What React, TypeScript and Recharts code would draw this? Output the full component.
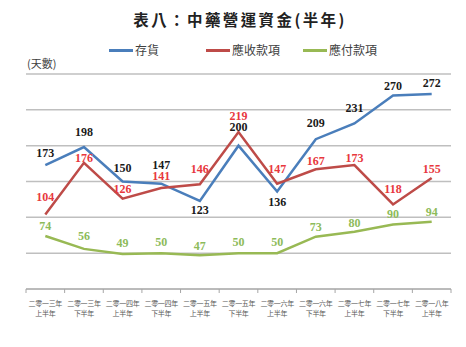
import React from 'react';
import { LineChart, Line, XAxis, YAxis, CartesianGrid, LabelList, Legend } from 'recharts';

const years = ['二零一三年', '二零一三年', '二零一四年', '二零一四年', '二零一五年', '二零一五年', '二零一六年', '二零一六年', '二零一七年', '二零一七年', '二零一八年'];
const halves = ['上半年', '下半年', '上半年', '下半年', '上半年', '下半年', '上半年', '下半年', '上半年', '下半年', '上半年'];
const inventory = [173, 198, 150, 147, 123, 200, 136, 209, 231, 270, 272];
const receivable = [104, 176, 126, 141, 146, 219, 147, 167, 173, 118, 155];
const payable = [74, 56, 49, 50, 47, 50, 50, 73, 80, 90, 94];
const yTicks = [0, 50, 100, 150, 200, 250, 300];

const seriesNames = ['存貨', '應收款項', '應付款項'];
const colors = ['#4A7EBB', '#BE4B48', '#98B954'];
const labelColors = ['#1a1a1a', '#E8383D', '#8DBB5A'];

// label vertical offsets (style only)
const invDy = [-12, -15, -14, -19, 9, -19, 10, -16, -15, -10, -11];
const recDy = [-17, -5, -10, -12, -15, -16, -15, -8, -7, -15, -9];
const payDy = [-10, -13, -11, -11, -9, -11, -11, -10, -9, -11, -10];

const data = years.map((y, i) => ({
  name: y + '|' + halves[i],
  year: y,
  half: halves[i],
  inv: inventory[i],
  rec: receivable[i],
  pay: payable[i],
}));

const makeLabel = (dys: number[], color: string) => (props: any) => {
  const { x, y, value, index } = props;
  return (
    <text
      x={x}
      y={y + dys[index]}
      textAnchor="middle"
      dominantBaseline="central"
      fill={color}
      fontSize={12}
      fontWeight="bold"
      fontFamily="'Liberation Serif', 'DejaVu Serif', serif"
    >
      {value}
    </text>
  );
};

const Tick = (props: any) => {
  const { x, y, index, width } = props;
  const bw = width / data.length;
  const d = data[index] || { year: '', half: '' };
  const left = x - bw / 2;
  return (
    <g>
      <line x1={left} y1={y} x2={left} y2={y + 4} stroke="#a6a6a6" strokeWidth={1} />
      {index === data.length - 1 && (
        <line x1={x + bw / 2} y1={y} x2={x + bw / 2} y2={y + 4} stroke="#a6a6a6" strokeWidth={1} />
      )}
      <text x={x} y={y + 17} textAnchor="middle" fontSize={7} letterSpacing={-0.3} fill="#595959" fontFamily="'Noto Sans CJK TC', sans-serif">
        {d.year}
      </text>
      <text x={x} y={y + 27} textAnchor="middle" fontSize={7} letterSpacing={-0.3} fill="#595959" fontFamily="'Noto Sans CJK TC', sans-serif">
        {d.half}
      </text>
    </g>
  );
};

const LegendContent = () => (
  <div style={{ display: 'flex', paddingLeft: 109, fontFamily: "'Noto Sans CJK TC', sans-serif", fontSize: 12, lineHeight: '14px', color: '#404040' }}>
    {seriesNames.map((n, i) => (
      <div key={n} style={{ width: 97, display: 'flex', alignItems: 'center' }}>
        <div style={{ width: 24, height: 3, background: colors[i], marginRight: 2 }} />
        <span>{n}</span>
      </div>
    ))}
  </div>
);

export default function App() {
  return (
    <div style={{ position: 'absolute', left: 0, top: 0, width: 466, height: 347, background: '#fff' }}>
      <div
        style={{
          position: 'absolute',
          left: 0,
          width: 480,
          top: 8,
          textAlign: 'center',
          fontFamily: "'Noto Sans CJK TC', sans-serif",
          fontWeight: 'bold',
          fontSize: 15.5,
          letterSpacing: 2.4,
          color: '#222',
        }}
      >
        表八：中藥營運資金(半年)
      </div>
      <div
        style={{
          position: 'absolute',
          left: 27,
          top: 55,
          fontFamily: "'Noto Sans CJK TC', sans-serif",
          fontSize: 11,
          color: '#404040',
        }}
      >
        (天數)
      </div>
      <LineChart width={466} height={347} data={data} margin={{ top: 60, left: 26, right: 15, bottom: 28 }}>
        <CartesianGrid vertical={false} stroke="#bfbfbf" strokeWidth={1.5} />
        <XAxis
          dataKey="name"
          scale="band"
          height={30}
          axisLine={{ stroke: '#a6a6a6' }}
          tickLine={false}
          tickSize={0}
          tickMargin={0}
          interval={0}
          tick={<Tick />}
        />
        <YAxis hide domain={[0, 300]} ticks={yTicks} />
        <Legend verticalAlign="top" content={<LegendContent />} wrapperStyle={{ top: 43, left: 0, width: 466 }} />
        <Line dataKey="inv" stroke={colors[0]} strokeWidth={2.5} dot={false} isAnimationActive={false}>
          <LabelList dataKey="inv" content={makeLabel(invDy, labelColors[0])} />
        </Line>
        <Line dataKey="rec" stroke={colors[1]} strokeWidth={2.5} dot={false} isAnimationActive={false}>
          <LabelList dataKey="rec" content={makeLabel(recDy, labelColors[1])} />
        </Line>
        <Line dataKey="pay" stroke={colors[2]} strokeWidth={2.5} dot={false} isAnimationActive={false}>
          <LabelList dataKey="pay" content={makeLabel(payDy, labelColors[2])} />
        </Line>
      </LineChart>
    </div>
  );
}
